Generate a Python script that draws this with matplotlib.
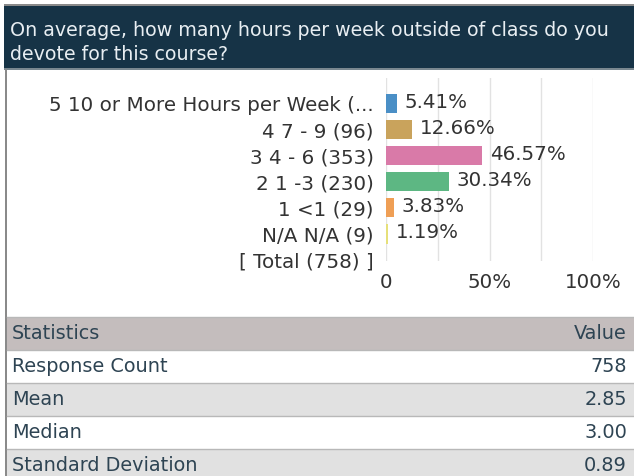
import matplotlib
matplotlib.use("Agg")
import matplotlib.pyplot as plt
from matplotlib.patches import Rectangle

plt.rcParams['font.family'] = ['DejaVu Sans']

title_lines = ["On average, how many hours per week outside of class do you",
               "devote for this course?"]
categories = ["5 10 or More Hours per Week (...", "4 7 - 9 (96)", "3 4 - 6 (353)",
              "2 1 -3 (230)", "1 <1 (29)", "N/A N/A (9)", "[ Total (758) ]"]
percents = [5.41, 12.66, 46.57, 30.34, 3.83, 1.19]
bar_colors = ["#4a8fc6", "#c9a35c", "#d97aa8", "#5db783", "#ef9f55", "#e6e07a"]
xticks = [0, 50, 100]
xtick_labels = ["0", "50%", "100%"]
stat_header = ["Statistics", "Value"]
stat_names = ["Response Count", "Mean", "Median", "Standard Deviation"]
stat_values = ["758", "2.85", "3.00", "0.89"]

W, H = 634, 476
fig = plt.figure(figsize=(W / 100, H / 100), dpi=100)

ov = fig.add_axes([0, 0, 1, 1])
ov.set_xlim(0, W)
ov.set_ylim(H, 0)
ov.axis('off')

txt = "#333333"
tcol = "#2e4453"
ov.add_patch(Rectangle((4, 3.5), W, 2, color="#8a8a8a", lw=0))
ov.add_patch(Rectangle((4, 5.5), W, 63, color="#163346", lw=0))
ov.add_patch(Rectangle((4, 68), W, 1.5, color="#7a8890", lw=0))
ov.add_patch(Rectangle((4.5, 69), 2, H, color="#8a8a8a", lw=0))
tfs = 13.7
ov.text(10, 30, title_lines[0], color="#e8eef2", fontsize=tfs, va='center', ha='left')
ov.text(10, 54.5, title_lines[1], color="#e8eef2", fontsize=tfs, va='center', ha='left')

row_tops = [317, 350, 383, 416, 449]
row_h = 33
fills = ["#c4bdbd", "#ffffff", "#e1e1e1", "#ffffff", "#e1e1e1"]
for i, (top, fc) in enumerate(zip(row_tops, fills)):
    ov.add_patch(Rectangle((6.5, top), W, row_h, color=fc, lw=0))
    ov.plot([6.5, W], [top, top], color="#b8b8b8", lw=1)
ov.plot([6.5, W], [row_tops[-1] + row_h, row_tops[-1] + row_h], color="#b8b8b8", lw=1)
fs = 13.9
ov.text(12, row_tops[0] + row_h / 2, stat_header[0], color=tcol, fontsize=fs, va='center')
ov.text(627, row_tops[0] + row_h / 2, stat_header[1], color=tcol, fontsize=fs, va='center', ha='right')
for i, (n, v) in enumerate(zip(stat_names, stat_values)):
    y = row_tops[i + 1] + row_h / 2
    ov.text(12, y, n, color=tcol, fontsize=fs, va='center')
    ov.text(627, y, v, color=tcol, fontsize=fs, va='center', ha='right')

x0, x1 = 386, 593
y_top, y_bot = 78, 261
ax = fig.add_axes([x0 / W, 1 - y_bot / H, (x1 - x0) / W, (y_bot - y_top) / H])
ax.set_facecolor('none')
cfs = 14.3
ypos = list(range(len(categories)))
ax.barh(ypos[:len(percents)], percents, height=0.74, color=bar_colors)
for y, p in zip(ypos, percents):
    ax.text(p + 3.5, y - 0.05, f"{p:.2f}%", va='center', ha='left', fontsize=cfs, color=txt)
ax.set_xlim(0, 100)
ax.set_ylim(6.04, -0.98)
ax.set_yticks(ypos)
ax.set_yticklabels(categories, fontsize=cfs, color=txt)
ax.set_xticks(xticks)
ax.set_xticklabels(xtick_labels, fontsize=cfs, color=txt)
ax.tick_params(axis='both', length=0)
ax.tick_params(axis='y', pad=9)
ax.tick_params(axis='x', pad=9)
for g in [0, 25, 50, 75, 100]:
    ax.axvline(g, color="#e2e2e2", lw=1, zorder=0)
for s in ax.spines.values():
    s.set_visible(False)

fig.savefig("out.png", dpi=100)
